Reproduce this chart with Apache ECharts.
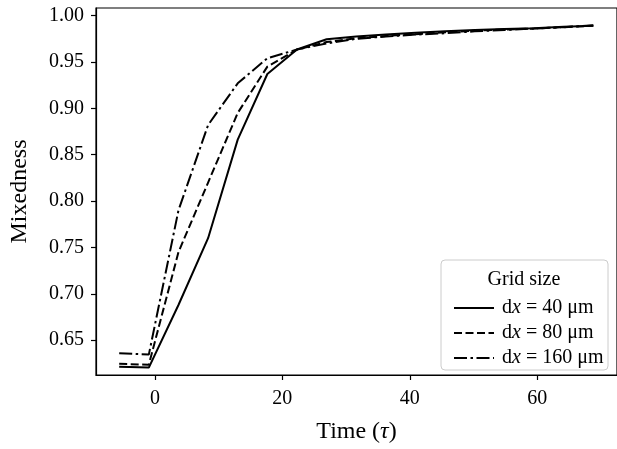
<!DOCTYPE html>
<html><head><meta charset="utf-8">
<script src="https://cdn.jsdelivr.net/npm/echarts@6/dist/echarts.min.js"></script>
<style>html,body{margin:0;padding:0;background:#fff}#c{width:617px;height:449px}</style>
</head><body><div id="c"></div>
<script>
const times = [-5.6, -0.95, 3.7, 8.35, 13.0, 17.65, 22.3, 26.95, 31.6, 36.25, 40.9, 45.55, 50.2, 54.85, 59.5, 64.15, 68.8];
const dx40  = [0.6215, 0.6205, 0.6880, 0.7600, 0.8663, 0.9370, 0.9634, 0.9745, 0.9775, 0.9795, 0.9815, 0.9830, 0.9845, 0.9855, 0.9865, 0.9880, 0.9890];
const dx80  = [0.6245, 0.6235, 0.7450, 0.8200, 0.8950, 0.9450, 0.9634, 0.9715, 0.9755, 0.9780, 0.9800, 0.9820, 0.9838, 0.9850, 0.9860, 0.9875, 0.9890];
const dx160 = [0.6360, 0.6345, 0.7900, 0.8820, 0.9270, 0.9540, 0.9634, 0.9700, 0.9750, 0.9775, 0.9795, 0.9810, 0.9830, 0.9845, 0.9860, 0.9875, 0.9895];
const seriesNames = ['dx = 40 μm', 'dx = 80 μm', 'dx = 160 μm'];
const xTicks = [0, 20, 40, 60];
const yTicks = [0.65, 0.70, 0.75, 0.80, 0.85, 0.90, 0.95, 1.00];
const legendTitle = 'Grid size';
const xName = 'Time ({i|τ})';
const yName = 'Mixedness';

const FONT = 'Liberation Serif';
const chart = echarts.init(document.getElementById('c'), null, {renderer: 'canvas'});
const pair = (vals) => times.map((t, i) => [t, vals[i]]);
const dashes = ['solid', [8, 3.5], [13, 3.5, 2.5, 3.5]];
const allVals = [dx40, dx80, dx160];

chart.setOption({
  animation: false,
  backgroundColor: '#fff',
  grid: {left: 96, top: 8, right: -10, bottom: 70, show: true, borderColor: '#000', borderWidth: 1.2, containLabel: false},
  xAxis: {
    type: 'value', min: -9.24, max: 72.52,
    name: xName, nameLocation: 'middle', nameGap: 45,
    nameTextStyle: {fontFamily: FONT, fontSize: 24, color: '#000', rich: {i: {fontFamily: FONT, fontSize: 24, fontStyle: 'italic', color: '#000'}}},
    axisLine: {onZero: false, lineStyle: {color: '#000', width: 1.2}},
    axisTick: {show: true, length: 5, lineStyle: {color: '#000', width: 1.2}, customValues: xTicks},
    axisLabel: {fontFamily: FONT, fontSize: 20, color: '#000', margin: 14, customValues: xTicks},
    splitLine: {show: false}
  },
  yAxis: {
    type: 'value', min: 0.6125, max: 1.0082,
    name: yName, nameLocation: 'middle', nameGap: 64,
    nameTextStyle: {fontFamily: FONT, fontSize: 24, color: '#000'},
    axisLine: {show: true, onZero: false, lineStyle: {color: '#000', width: 1.2}},
    axisTick: {show: true, length: 5, lineStyle: {color: '#000', width: 1.2}, customValues: yTicks},
    axisLabel: {fontFamily: FONT, fontSize: 20, color: '#000', margin: 12, customValues: yTicks, formatter: v => v.toFixed(2)},
    splitLine: {show: false}
  },
  legend: {
    orient: 'vertical', left: 448, top: 293, itemWidth: 40, itemHeight: 20, itemGap: 5,
    data: seriesNames,
    formatter: n => n.replace('dx', 'd{i|x}'),
    itemStyle: {opacity: 0},
    lineStyle: {width: 2},
    textStyle: {fontFamily: FONT, fontSize: 20, color: '#000', padding: [0, 0, 0, 3],
      rich: {i: {fontFamily: FONT, fontSize: 20, fontStyle: 'italic', color: '#000'}}},
    z: 10
  },
  graphic: [
    {type: 'rect', z: 8, shape: {x: 441, y: 260, width: 167, height: 110, r: 4},
     style: {fill: 'rgba(255,255,255,0.85)', stroke: '#cccccc', lineWidth: 1}},
    {type: 'text', z: 9, x: 524, y: 280,
     style: {text: legendTitle, font: '20px "Liberation Serif"', fill: '#000', textAlign: 'center', textVerticalAlign: 'middle'}}
  ],
  series: seriesNames.map((n, k) => ({
    name: n, type: 'line', symbol: 'none', data: pair(allVals[k]),
    lineStyle: {color: '#000', width: 2, type: dashes[k]},
    itemStyle: {color: '#000'}, z: 2
  }))
});
</script></body></html>
